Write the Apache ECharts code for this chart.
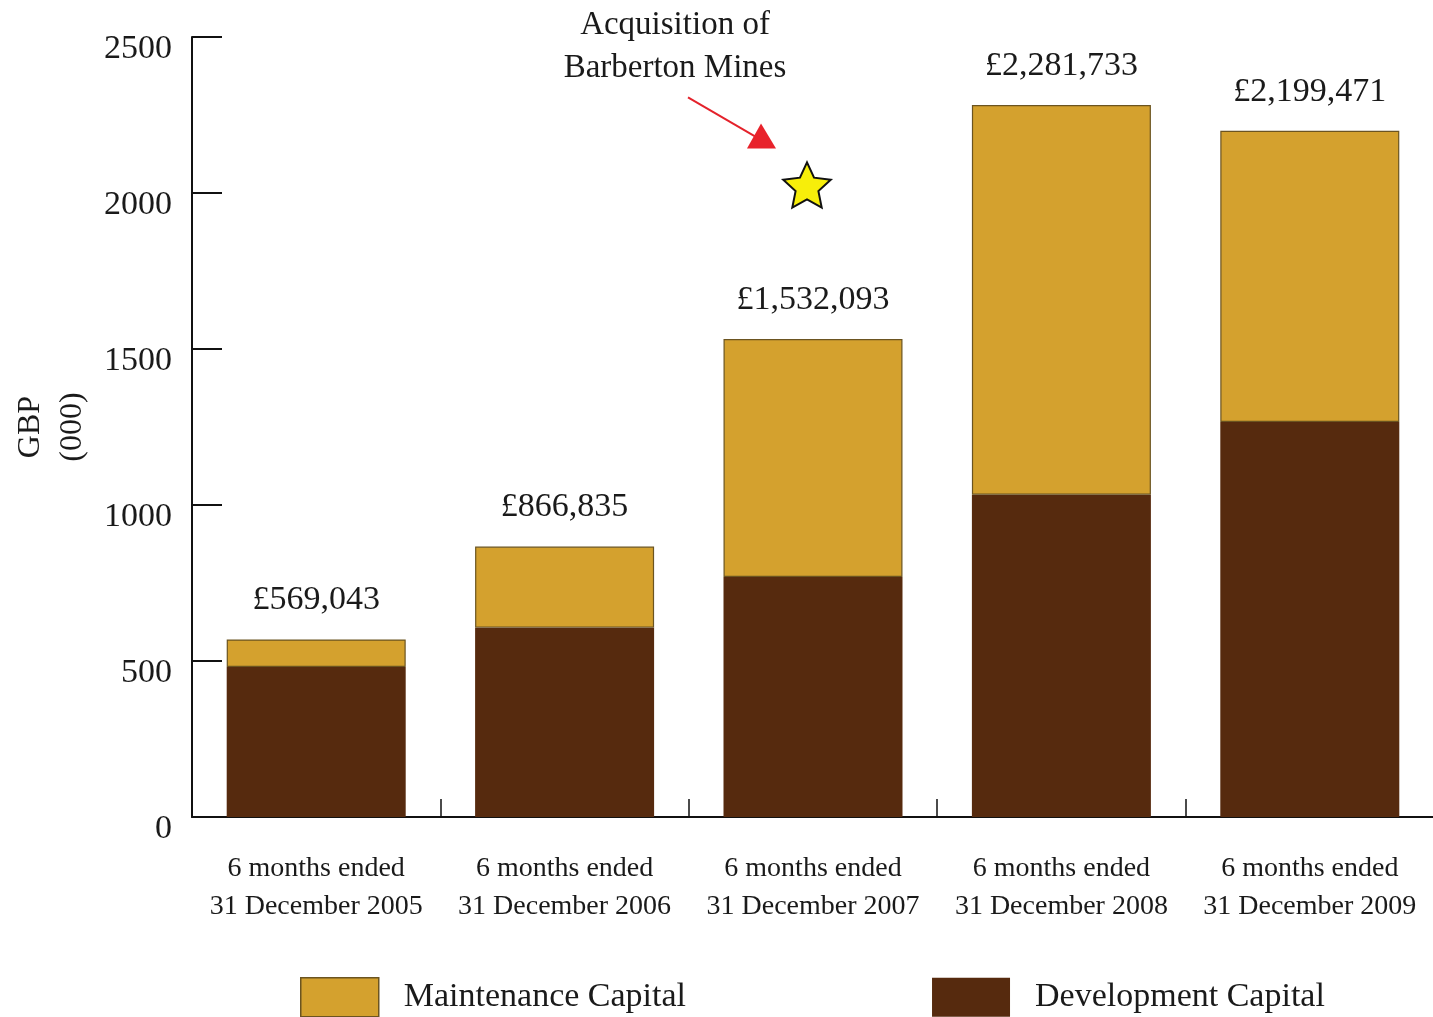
<!DOCTYPE html>
<html>
<head>
<meta charset="utf-8">
<title>Capital expenditure</title>
<script src="https://cdn.jsdelivr.net/npm/echarts@6/dist/echarts.min.js"></script>
<style>
  html, body { margin: 0; padding: 0; background: #ffffff; }
  #chart { width: 1433px; height: 1017px; }
</style>
</head>
<body>
<div id="chart"></div>
<script>
// Half-year periods
const categories = [
  '6 months ended\n31 December 2005',
  '6 months ended\n31 December 2006',
  '6 months ended\n31 December 2007',
  '6 months ended\n31 December 2008',
  '6 months ended\n31 December 2009'
];
// GBP (000)
const developmentCapital = [481, 607, 769, 1033, 1266];
const maintenanceCapital = [88.043, 259.835, 763.093, 1248.733, 933.471];
// Stated period totals (GBP)
const totalLabels = ['£569,043', '£866,835', '£1,532,093', '£2,281,733', '£2,199,471'];
const yTicks = [0, 500, 1000, 1500, 2000, 2500];

const FONT = 'Liberation Serif';
const MAINT = '#d4a12e';
const DEV = '#562a0e';

const chart = echarts.init(document.getElementById('chart'), null, { renderer: 'canvas' });

const option = {
  backgroundColor: '#ffffff',
  animation: false,
  textStyle: { fontFamily: FONT, color: '#1a1a1a' },
  grid: { left: 192, right: -1, top: 37, bottom: 200, containLabel: false, outerBoundsMode: 'none' },
  legend: {
    left: 295,
    top: 972,
    icon: 'rect',
    itemWidth: 78,
    itemHeight: 39,
    itemGap: 246,
    textStyle: { fontFamily: FONT, fontSize: 34, color: '#1a1a1a', padding: [12, 0, 0, 20] },
    data: [
      { name: 'Maintenance Capital', itemStyle: { color: MAINT, borderColor: '#6b5420', borderWidth: 1.5 } },
      { name: 'Development Capital', itemStyle: { color: DEV, borderColor: DEV, borderWidth: 0 } }
    ]
  },
  xAxis: {
    type: 'category',
    data: categories,
    axisLine: { show: true, lineStyle: { color: '#111', width: 2 } },
    axisTick: { show: true, inside: true, length: 18, alignWithLabel: false, lineStyle: { color: '#111', width: 1.5 } },
    axisLabel: {
      interval: 0,
      margin: 33,
      fontFamily: FONT,
      fontSize: 28,
      lineHeight: 38,
      color: '#1a1a1a'
    }
  },
  yAxis: {
    type: 'value',
    min: yTicks[0],
    max: yTicks[yTicks.length - 1],
    interval: 500,
    name: 'GBP\n(000)',
    nameLocation: 'middle',
    nameGap: 98,
    nameRotate: 90,
    nameTextStyle: { fontFamily: FONT, fontSize: 32, lineHeight: 42, color: '#1a1a1a' },
    axisLine: { show: true, lineStyle: { color: '#111', width: 2 } },
    axisTick: { show: true, inside: true, length: 30, lineStyle: { color: '#111', width: 2 } },
    splitLine: { show: false },
    axisLabel: {
      margin: 20,
      fontFamily: FONT,
      fontSize: 34,
      color: '#1a1a1a',
      verticalAlign: 'top',
      lineHeight: 24,
      formatter: (v) => String(v)
    }
  },
  series: [
    {
      name: 'Development Capital',
      type: 'bar',
      stack: 'capex',
      barWidth: 179,
      data: developmentCapital,
      itemStyle: { color: DEV }
    },
    {
      name: 'Maintenance Capital',
      type: 'bar',
      stack: 'capex',
      barWidth: 179,
      data: maintenanceCapital,
      itemStyle: { color: MAINT, borderColor: '#6b5420', borderWidth: 1.2 },
      label: {
        show: true,
        position: 'top',
        distance: 22,
        fontFamily: FONT,
        fontSize: 34,
        color: '#1a1a1a',
        formatter: (p) => totalLabels[p.dataIndex]
      }
    }
  ]
};

chart.setOption(option);

// Acquisition annotation, anchored next to the 2007 bar
function starPath(cx, cy, rOut, rIn) {
  const pts = [];
  for (let i = 0; i < 10; i++) {
    const r = i % 2 === 0 ? rOut : rIn;
    const a = -Math.PI / 2 + i * Math.PI / 5;
    pts.push([cx + r * Math.cos(a), cy + r * Math.sin(a)]);
  }
  return pts;
}

const anchor = chart.convertToPixel({ gridIndex: 0 }, [2, 2018]);
const sx = anchor[0] - 6;
const sy = anchor[1];

chart.setOption({
  graphic: [
    {
      type: 'text',
      x: sx - 132,
      y: sy - 184,
      style: {
        text: 'Acquisition of\nBarberton Mines',
        fontFamily: FONT,
        fontSize: 33,
        lineHeight: 43,
        fill: '#1a1a1a',
        align: 'center',
        verticalAlign: 'top'
      },
      z: 10
    },
    {
      type: 'line',
      shape: { x1: sx - 119, y1: sy - 90, x2: sx - 52, y2: sy - 51 },
      style: { stroke: '#e4222b', lineWidth: 2 },
      z: 10
    },
    {
      type: 'polygon',
      shape: { points: [[sx - 46, sy - 64], [sx - 60, sy - 39], [sx - 31, sy - 39]] },
      style: { fill: '#e8222b' },
      z: 10
    },
    {
      type: 'polygon',
      shape: { points: starPath(sx, sy, 25, 12) },
      style: { fill: '#f7ee0a', stroke: '#111', lineWidth: 2 },
      z: 10
    }
  ]
});
</script>
</body>
</html>
